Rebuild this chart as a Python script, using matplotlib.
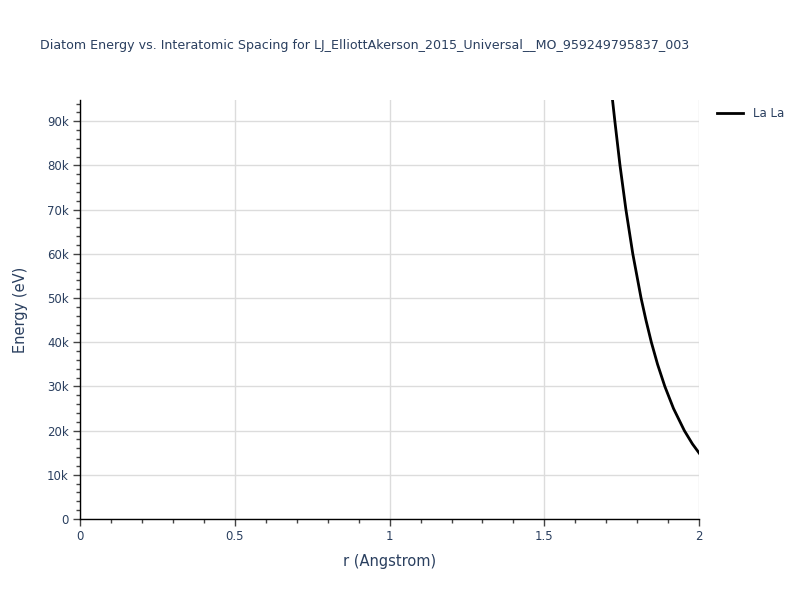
import matplotlib
matplotlib.use("Agg")
import matplotlib.pyplot as plt
from matplotlib.ticker import MultipleLocator

plt.rcParams['font.family'] = ['DejaVu Sans']

title = "Diatom Energy vs. Interatomic Spacing for LJ_ElliottAkerson_2015_Universal__MO_959249795837_003"
series_name = "La La"
r_values = [1.707, 1.720, 1.7276, 1.7442, 1.7633, 1.7855, 1.8122, 1.828, 1.8454, 1.8655,
            1.889, 1.917, 1.952, 1.978, 2.000]
energy_values = [104000, 94800, 90000, 80000, 70000, 60000, 50000, 45000, 40000, 35000,
                 30000, 25000, 20000, 17000, 14900]
x_ticks = [0, 0.5, 1, 1.5, 2]
x_tick_labels = ["0", "0.5", "1", "1.5", "2"]
y_ticks = [0, 10000, 20000, 30000, 40000, 50000, 60000, 70000, 80000, 90000]
y_tick_labels = ["0", "10k", "20k", "30k", "40k", "50k", "60k", "70k", "80k", "90k"]

text_color = "#2a3f5f"
grid_color = "#dcdcdc"

fig = plt.figure(figsize=(8, 6), dpi=100)
ax = fig.add_axes([0.1, 0.135, 0.774, 0.6983])

ax.plot(r_values, energy_values, color="black", lw=2, label=series_name, clip_on=True)

ax.set_xlim(0, 2)
ax.set_ylim(0, 94800)
ax.set_xticks(x_ticks)
ax.set_xticklabels(x_tick_labels)
ax.set_yticks(y_ticks)
ax.set_yticklabels(y_tick_labels)
ax.xaxis.set_minor_locator(MultipleLocator(0.1))
ax.yaxis.set_minor_locator(MultipleLocator(2000))

ax.grid(True, which="major", color=grid_color, lw=1)
ax.set_axisbelow(True)
for s in ["top", "right"]:
    ax.spines[s].set_visible(False)
for s in ["left", "bottom"]:
    ax.spines[s].set_color("black")
    ax.spines[s].set_linewidth(1)

ax.tick_params(which="major", direction="out", length=5, width=1, color="#444444",
               labelcolor=text_color, labelsize=8.5, pad=3)
ax.tick_params(which="minor", direction="out", length=3, width=1, color="#444444")

ax.set_xlabel("r (Angstrom)", color=text_color, fontsize=10.5, labelpad=8)
ax.set_ylabel("Energy (eV)", color=text_color, fontsize=10.5, labelpad=14)

fig.text(0.05, 0.925, title, color=text_color, fontsize=9.1, ha="left", va="center")

leg = ax.legend(loc="upper left", bbox_to_anchor=(1.018, 1.0), frameon=False,
                fontsize=8.5, handlelength=2.2, borderaxespad=0.2)
for t in leg.get_texts():
    t.set_color(text_color)

fig.savefig("out.png", dpi=100)
